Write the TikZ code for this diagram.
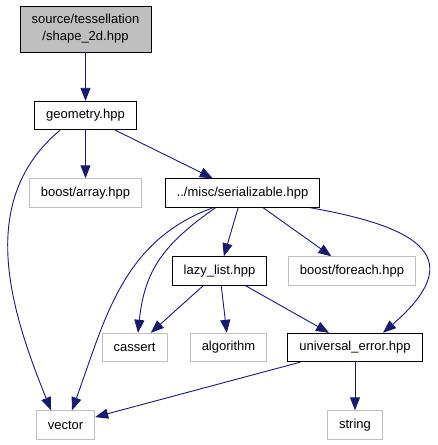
\documentclass[tikz,border=0pt]{standalone}
\usepackage{fontspec}
\setmainfont{Liberation Sans}
\usepackage{xcolor}
\usepackage{tikz}
\usetikzlibrary{arrows.meta,positioning}
\definecolor{edgeblue}{HTML}{191970}
\definecolor{boxgray}{HTML}{BFBFBF}
\tikzset{
	file/.style={draw=black, line width=0.9bp, inner xsep=11.5bp, inner ysep=2bp, minimum height=28.5bp, font=\fontsize{13bp}{17bp}\selectfont, fill=white, align=center},
	header/.style={file, fill=boxgray, minimum width=131bp, minimum height=46bp},
	extfile/.style={file, draw=boxgray},
	dep/.style={draw=edgeblue, line width=0.9bp, -{Triangle[length=13bp,width=10bp]}}
}

\begin{document}
\begin{tikzpicture}[on grid]
	\useasboundingbox (0,0) rectangle (438bp,-445bp);

	\node[header] (shape2d) at (85.5bp,-29bp) {source/tessellation\\/shape\_2d.hpp};
	\node[file, below=86.5bp of shape2d] (geometry) {geometry.hpp};

	% row below geometry.hpp
	\node[extfile, below=77.5bp of geometry] (array) {boost/array.hpp};
	\node[file, right=157bp of array] (serializable) {../misc/serializable.hpp};

	% row below serializable.hpp
	\node[file, below=78bp of serializable, xshift=-23bp] (lazylist) {lazy\_list.hpp};
	\node[extfile, right=132.5bp of lazylist] (foreach) {boost/foreach.hpp};

	% row below lazy_list.hpp
	\node[extfile, below=76.5bp of lazylist, xshift=-85bp] (cassert) {cassert};
	\node[extfile, right=94bp of cassert] (algorithm) {algorithm};
	\node[file, right=126.5bp of algorithm] (uerror) {universal\_error.hpp};

	% last row
	\node[extfile, below=77.5bp of uerror] (string) {string};
	\node[extfile, left=289.5bp of string] (vector) {vector};

	\draw[dep] (shape2d) -- (geometry);
	\draw[dep] (geometry) -- (array);
	\draw[dep] (geometry) -- (serializable);
	\draw[dep] ([xshift=-25.5bp]geometry.south) to[out=220, in=112] ([xshift=-14.5bp]vector.north);

	\draw[dep] (serializable) -- (lazylist);
	\draw[dep] (serializable) -- (foreach);
	\draw[dep] ([xshift=-29.5bp]serializable.south) to[out=200, in=70] ([xshift=6.5bp]vector.north);
	\draw[dep] ([xshift=-27bp]serializable.south) to[out=215, in=84, looseness=1.1] ([xshift=3.5bp]cassert.north);
	\draw[dep] ([xshift=67.5bp]serializable.south) to[out=-10, in=41, looseness=2] ([xshift=28bp]uerror.north);

	\draw[dep] (lazylist) -- (cassert);
	\draw[dep] (lazylist) -- (algorithm);
	\draw[dep] (lazylist) -- (uerror);

	\draw[dep] (uerror) -- (vector);
	\draw[dep] (uerror) -- (string);
\end{tikzpicture}
\end{document}
